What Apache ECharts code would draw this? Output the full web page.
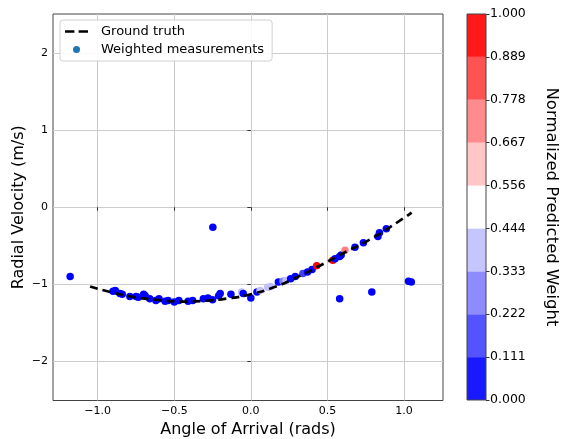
<!DOCTYPE html>
<html><head><meta charset="utf-8">
<script src="https://cdn.jsdelivr.net/npm/echarts@6/dist/echarts.min.js"></script>
<style>html,body{margin:0;padding:0;background:#fff}#c{width:563px;height:439px}</style>
</head><body><div id="c"></div>
<script>
// Ground truth curve
const gtX = [-1.05,-0.9,-0.75,-0.6,-0.45,-0.3,-0.15,0,0.15,0.3,0.45,0.6,0.75,0.9,1.05];
const gtY = [-1.03,-1.11,-1.17,-1.205,-1.225,-1.215,-1.185,-1.13,-1.04,-0.91,-0.76,-0.60,-0.45,-0.27,-0.07];
// Weighted measurements
const mX = [-1.18,-0.248,0.0,0.58,0.79,1.03,1.048,
  -0.90,-0.885,-0.855,-0.84,-0.79,-0.75,-0.735,-0.70,-0.69,-0.66,-0.62,-0.60,-0.56,-0.54,-0.50,-0.47,-0.41,-0.38,-0.31,-0.28,-0.25,-0.21,-0.20,-0.13,-0.06,-0.05,0.04,0.06,0.11,0.13,0.18,0.21,0.23,0.26,0.29,0.34,0.37,0.40,0.43,0.535,0.55,0.58,0.59,0.615,0.68,0.735,0.83,0.84,0.885];
const mY = [-0.90,-0.26,-1.18,-1.19,-1.10,-0.96,-0.97,
  -1.09,-1.08,-1.12,-1.13,-1.16,-1.16,-1.17,-1.13,-1.15,-1.19,-1.21,-1.19,-1.22,-1.21,-1.23,-1.21,-1.22,-1.21,-1.19,-1.18,-1.20,-1.15,-1.12,-1.13,-1.10,-1.12,-1.10,-1.08,-1.04,-1.03,-0.97,-0.96,-0.95,-0.93,-0.90,-0.86,-0.84,-0.81,-0.76,-0.69,-0.67,-0.64,-0.62,-0.56,-0.52,-0.46,-0.38,-0.33,-0.28];
const mW = [0.02,0.02,0.02,0.02,0.02,0.02,0.02,
  0.05,0.05,0.05,0.05,0.05,0.05,0.05,0.05,0.05,0.05,0.05,0.05,0.05,0.05,0.05,0.05,0.05,0.05,0.05,0.05,0.05,0.05,0.05,0.05,0.38,0.05,0.05,0.38,0.38,0.40,0.05,0.25,0.38,0.05,0.05,0.15,0.05,0.05,0.95,0.95,0.05,0.05,0.05,0.75,0.05,0.05,0.05,0.05,0.05];
// Tick labels
const xTicks = [-1.0,-0.5,0.0,0.5,1.0];
const yTicks = [-2,-1,0,1,2];
const cbTicks = [0,1/9,2/9,3/9,4/9,5/9,6/9,7/9,8/9,1];
const binColors = ['#0000ff','#4040ff','#8080ff','#c0c0ff','#ffffff','#ffc0c0','#ff8080','#ff4040','#ff0000'];

const FONT = 'DejaVu Sans';
const minus = s => String(s).replace('-', '\u2212');
const scatterData = mX.map((x,i)=>[x,mY[i],mW[i]]);
const gtData = gtX.map((x,i)=>[x,gtY[i]]);

const pieces = binColors.map((c,i)=>({gte: cbTicks[i], lt: i===8 ? 1.0001 : cbTicks[i+1], color: c}));

const cbSeries = binColors.map((c,i)=>({
  type:'bar', xAxisIndex:1, yAxisIndex:1, stack:'cb', data:[cbTicks[i+1]-cbTicks[i]],
  barWidth:'100%', itemStyle:{color:c, opacity:0.9}, silent:true, legendHoverLink:false
}));

const chart = echarts.init(document.getElementById('c'), null, {renderer:'canvas'});
chart.setOption({
  animation:false,
  textStyle:{fontFamily:FONT},
  grid:[
    {left:53, top:14, right:120, bottom:38.5, show:true, borderColor:'#444', borderWidth:1, backgroundColor:'transparent', outerBoundsMode:'none', containLabel:false},
    {left:467, top:14, width:19, bottom:39, show:true, borderColor:'#444', borderWidth:1, z:5, outerBoundsMode:'none', containLabel:false}
  ],
  xAxis:[
    {type:'value', gridIndex:0, min:-1.292, max:1.255,
     name:'Angle of Arrival (rads)', nameLocation:'middle', nameGap:21,
     nameTextStyle:{fontSize:16, color:'#000', fontFamily:FONT},
     axisLine:{show:false}, 
     axisTick:{show:true, inside:false, length:3.5, lineStyle:{color:'#333'}, customValues:xTicks},
     axisLabel:{color:'#000', fontSize:11, fontFamily:FONT, margin:5, customValues:xTicks,
       formatter:v=>minus(v.toFixed(1))},
     splitLine:{show:true, lineStyle:{color:'#cccccc', width:1}}},
    {type:'category', gridIndex:1, data:['w'], show:false, boundaryGap:true}
  ],
  yAxis:[
    {type:'value', gridIndex:0, min:-2.51, max:2.51,
     name:'Radial Velocity (m/s)', nameLocation:'middle', nameGap:26, nameRotate:90, nameMoveOverlap:false,
     nameTextStyle:{fontSize:16, color:'#000', fontFamily:FONT},
     axisLine:{show:false},
     axisTick:{show:true, inside:false, length:3.5, lineStyle:{color:'#333'}, customValues:yTicks},
     axisLabel:{color:'#000', fontSize:11, fontFamily:FONT, margin:5, customValues:yTicks,
       formatter:v=>minus(v)},
     splitLine:{show:true, lineStyle:{color:'#cccccc', width:1}}},
    {type:'value', gridIndex:1, min:0, max:1, position:'right',
     name:'Normalized Predicted Weight', nameLocation:'middle', nameGap:57, nameRotate:-90,
     nameTextStyle:{fontSize:16.5, color:'#000', fontFamily:FONT},
     axisLine:{show:false},
     axisTick:{show:true, inside:false, length:3.5, lineStyle:{color:'#333'}, customValues:cbTicks},
     axisLabel:{color:'#000', fontSize:12.5, fontFamily:FONT, margin:4, customValues:cbTicks,
       formatter:v=>v.toFixed(3)},
     splitLine:{show:false}}
  ],
  visualMap:{type:'piecewise', show:false, dimension:2, seriesIndex:1, pieces:pieces},
  legend:{
    orient:'vertical', left:60, top:20, padding:[5,8,5,5], itemGap:5,
    itemWidth:23, itemHeight:7,
    borderColor:'#d0d0d0', borderWidth:1, borderRadius:3, backgroundColor:'rgba(255,255,255,0.85)',
    textStyle:{fontSize:13, color:'#000', fontFamily:FONT, padding:[0,0,0,8]},
    data:[
      {name:'Ground truth', icon:'path://M0,0H9V2.6H0Z M13,0H22V2.6H13Z', itemStyle:{color:'#000'}},
      {name:'Weighted measurements', icon:'circle', itemStyle:{color:'#1f77b4'}}
    ]
  },
  series:[
    {name:'Ground truth', type:'line', xAxisIndex:0, yAxisIndex:0, data:gtData, smooth:true,
     showSymbol:false, symbol:'none', z:4,
     lineStyle:{color:'#000', width:2.7, type:[8,5]}, itemStyle:{color:'#000'}},
    {name:'Weighted measurements', type:'scatter', xAxisIndex:0, yAxisIndex:0, data:scatterData,
     symbolSize:7.5, z:3, itemStyle:{opacity:1}},
    ...cbSeries
  ]
});
</script></body></html>
